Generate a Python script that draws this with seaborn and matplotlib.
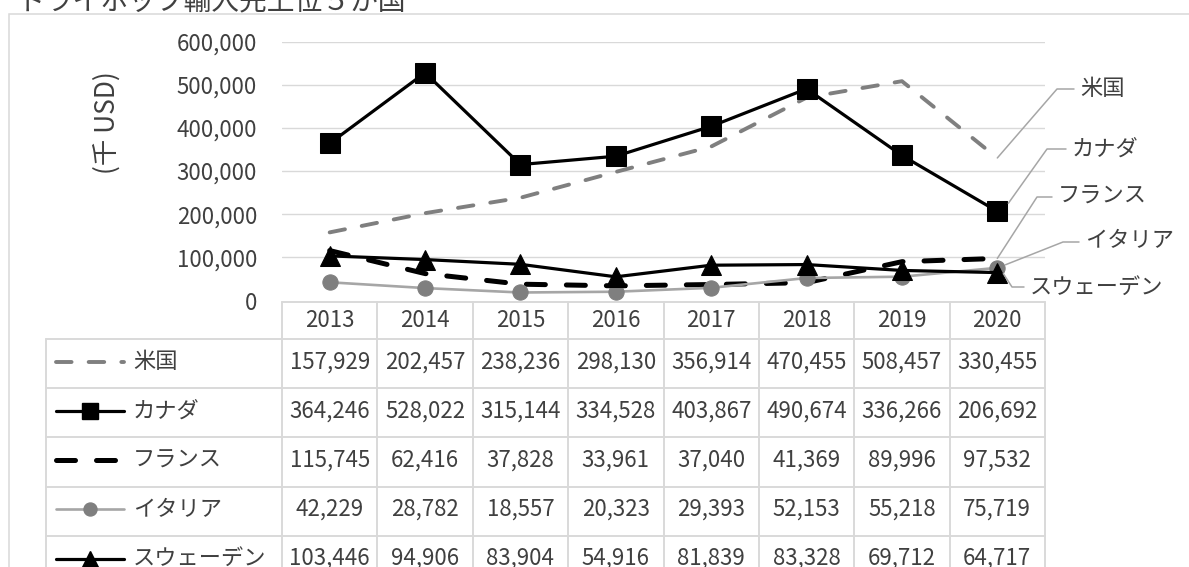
import matplotlib
matplotlib.use("Agg")
import matplotlib.pyplot as plt
import seaborn as sns
import pandas as pd
from matplotlib.lines import Line2D

sns.set_theme(style="white")
plt.rcParams['font.family'] = ['Noto Sans CJK JP', 'DejaVu Sans']

# ---------------- data ----------------
title = "ドライホップ輸入先上位５か国"
ylabel = "(千 USD)"
years = ["2013", "2014", "2015", "2016", "2017", "2018", "2019", "2020"]
countries = ["米国", "カナダ", "フランス", "イタリア", "スウェーデン"]
us = [157929, 202457, 238236, 298130, 356914, 470455, 508457, 330455]
canada = [364246, 528022, 315144, 334528, 403867, 490674, 336266, 206692]
france = [115745, 62416, 37828, 33961, 37040, 41369, 89996, 97532]
italy = [42229, 28782, 18557, 20323, 29393, 52153, 55218, 75719]
sweden = [103446, 94906, 83904, 54916, 81839, 83328, 69712, 64717]
series = [us, canada, france, italy, sweden]
yticks = [0, 100000, 200000, 300000, 400000, 500000, 600000]

# ---------------- layout helpers ----------------
W, H = 1189, 567
fig = plt.figure(figsize=(W / 100, H / 100), dpi=100)
fx = lambda x: x / W
fy = lambda y: 1 - y / H

GRID = '#d9d9d9'
TXT = '#404040'
FS = 16

# outer chart border
fig.add_artist(plt.Rectangle((fx(9), fy(600)), fx(1300) - fx(9), fy(14) - fy(600),
                             transform=fig.transFigure, fill=False, ec=GRID, lw=1.1))

# title (cut at the top)
fig.text(fx(18), fy(9), title, fontsize=20, color=TXT, ha='left', va='baseline')

# ---------------- chart axes ----------------
x0, x1 = 282, 1045
ytop, ybot = 41.7, 300.5
ax = fig.add_axes([fx(x0), fy(ybot), fx(x1) - fx(x0), fy(ytop) - fy(ybot)])
ax.set_xlim(-0.5, 7.5)
ax.set_ylim(0, 600000)
ax.set_yticks(yticks)
ax.set_yticklabels([f"{v:,}" for v in yticks], fontsize=FS, color=TXT)
ax.tick_params(axis='y', length=0, pad=18)
ax.set_xticks([])
for s in ax.spines.values():
    s.set_visible(False)
for v in yticks[1:]:
    ax.axhline(v, color=GRID, lw=1.0, zorder=0)
ax.patch.set_alpha(0)

styles = [
    dict(color='#7f7f7f', lw=2.8, ls=(0, (4.0, 4.4)), marker=None),
    dict(color='black', lw=2.3, ls='-', marker='s', ms=14, mfc='black', mec='black'),
    dict(color='black', lw=3.6, ls=(0, (3.8, 4.2)), marker=None),
    dict(color='#a6a6a6', lw=1.9, ls='-', marker='o', ms=11, mfc='#7f7f7f', mec='#7f7f7f'),
    dict(color='black', lw=2.3, ls='-', marker='^', ms=14, mfc='black', mec='black'),
]

xs = list(range(len(years)))
for name, vals, st in zip(countries, series, styles):
    df = pd.DataFrame({"x": xs, "y": vals})
    kw = dict(color=st['color'], linewidth=st['lw'], linestyle=st['ls'])
    if st['marker']:
        kw.update(marker=st['marker'], markersize=st['ms'], markerfacecolor=st['mfc'],
                  markeredgecolor=st['mec'])
    sns.lineplot(data=df, x="x", y="y", ax=ax, legend=False, **kw)
for ln in ax.get_lines():
    ln.set_dash_capstyle('round')
    ln.set_solid_capstyle('round')
ax.set_xlabel("")
ax.set_ylabel("")

fig.text(fx(107), fy(123), ylabel, rotation=90, fontsize=19, color=TXT, ha='center', va='center')

# ---------------- leader labels ----------------
label_pos = [  # text x, text y, elbow x, elbow y, point offset x, y
    (1080, 89, 1057, 89, 0, 0),
    (1072, 149, 1047, 149, 11, -8),
    (1058, 196, 1037, 197, 0, 0),
    (1085, 241, 1063, 242, 8, -3),
    (1030, 287, 1012, 287, 6, 1),
]
for name, vals, (tx, ty, ex, ey, ox, oy) in zip(countries, series, label_pos):
    px, py = ax.transData.transform((7, vals[-1]))
    py = H - py
    px, py = px + ox, py + oy
    fig.add_artist(Line2D([fx(px), fx(ex), fx(tx - 6)], [fy(py), fy(ey), fy(ey)],
                          transform=fig.transFigure, color='#a6a6a6', lw=1.1))
    fig.text(fx(tx), fy(ty), name, fontsize=FS, color=TXT, ha='left', va='center')

# ---------------- data table ----------------
colw = (x1 - x0) / len(years)
col_edges = [x0 + k * colw for k in range(len(years) + 1)]
row_edges = [301.7, 339.3, 388.3, 437.3, 486.7, 536.0, 585.0]
TLW = 1.4
fig.add_artist(Line2D([fx(x0), fx(x1)], [fy(row_edges[0])] * 2, transform=fig.transFigure, color=GRID, lw=TLW))
for r in row_edges[1:]:
    fig.add_artist(Line2D([fx(46), fx(x1)], [fy(r)] * 2, transform=fig.transFigure, color=GRID, lw=TLW))
for c in col_edges:
    fig.add_artist(Line2D([fx(c), fx(c)], [fy(row_edges[0]), fy(600)], transform=fig.transFigure, color=GRID, lw=TLW))
fig.add_artist(Line2D([fx(46), fx(46)], [fy(row_edges[1]), fy(600)], transform=fig.transFigure, color=GRID, lw=TLW))

for k, yr in enumerate(years):
    fig.text(fx(x0 + (k + 0.5) * colw), fy((row_edges[0] + row_edges[1]) / 2), yr,
             fontsize=FS, color=TXT, ha='center', va='center')

for i, (name, vals, st) in enumerate(zip(countries, series, styles)):
    yc = (row_edges[i + 1] + row_edges[i + 2]) / 2 - 2
    key = Line2D([fx(56), fx(124)], [fy(yc)] * 2, transform=fig.transFigure,
                 color=st['color'], lw=st['lw'], linestyle=st['ls'],
                 dash_capstyle='round', solid_capstyle='round')
    fig.add_artist(key)
    if st['marker']:
        fig.add_artist(Line2D([fx(90)], [fy(yc)], transform=fig.transFigure, marker=st['marker'],
                              ms=st['ms'] * 0.85, mfc=st['mfc'], mec=st['mec'], ls='none'))
    fig.text(fx(133), fy(yc), name, fontsize=FS, color=TXT, ha='left', va='center')
    for k, v in enumerate(vals):
        fig.text(fx(x0 + (k + 0.5) * colw), fy(yc), f"{v:,}", fontsize=FS, color=TXT,
                 ha='center', va='center')

fig.savefig("out.png", dpi=100)
